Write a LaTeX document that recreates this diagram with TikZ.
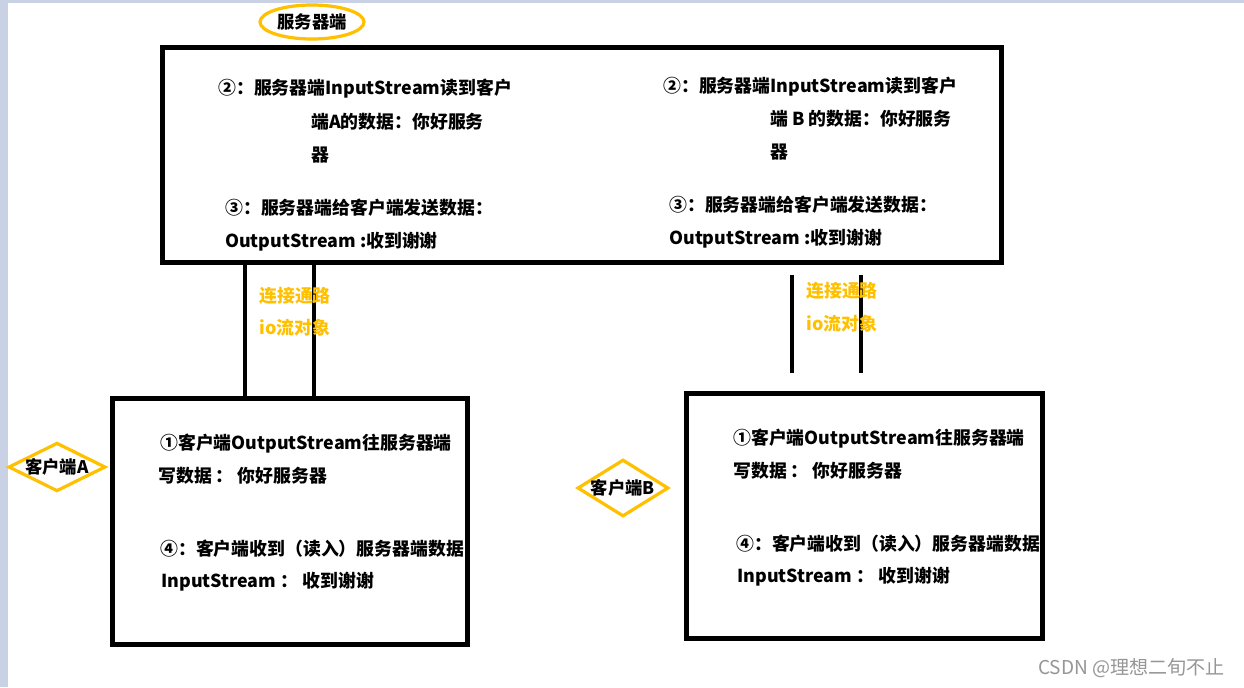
\documentclass[tikz,border=0pt]{standalone}
\usepackage{fontspec}
\setmainfont{Noto Sans CJK SC}
\usetikzlibrary{shapes.geometric}
\definecolor{gold}{RGB}{255,192,0}
\definecolor{strip}{RGB}{200,210,228}
\definecolor{wm}{RGB}{150,150,150}
\tikzset{
  box/.style={draw=black,line width=3.8pt,fill=none,inner sep=0pt},
  txt/.style={anchor=base west,inner sep=0pt,font=\fontsize{13.4}{16}\selectfont\bfseries},
  gtxt/.style={txt,text=gold},
  link/.style={line width=3.6pt,black},
  tag/.style={draw=gold,line width=2.4pt,fill=white,inner sep=0pt,font=\fontsize{13}{15}\selectfont\bfseries}
}
\begin{document}
\begin{tikzpicture}[x=0.75pt,y=-0.75pt]
\useasboundingbox (0,0) rectangle (1244,687);
\fill[white] (0,0) rectangle (1244,687);
\fill[strip] (0,0) rectangle (1244,3);
\fill[strip] (0,0) rectangle (8,687);
% server
\node[box,minimum width=839*0.75pt,minimum height=215*0.75pt,anchor=north west] (server) at (160,45) {};
\node[tag,ellipse,minimum width=104*0.75pt,minimum height=34*0.75pt] (stag) at (312,22) {服务器端};
\node[txt] (s1) at (218,94) {②：服务器端InputStream读到客户};
\node[txt] (s2) at (311,128) {端A的数据：你好服务};
\node[txt] (s3) at (311,161) {器};
\node[txt] (s4) at (225,214) {③：服务器端给客户端发送数据：};
\node[txt] (s5) at (225,247) {OutputStream :收到谢谢};
\node[txt] (t1) at (663,92) {②：服务器端InputStream读到客户};
\node[txt] (t2) at (770,125) {端 B 的数据：你好服务};
\node[txt] (t3) at (770,158) {器};
\node[txt] (t4) at (669,211) {③：服务器端给客户端发送数据：};
\node[txt] (t5) at (669,244) {OutputStream :收到谢谢};
% client A
\node[box,minimum width=355*0.75pt,minimum height=246*0.75pt,anchor=north west] (clientA) at (110,396) {};
\node[tag,diamond,aspect=2,minimum width=92*0.75pt,minimum height=46*0.75pt,inner sep=0pt] (atag) at (57,467) {客户端A};
\node[txt] (a1) at (160,449) {①客户端OutputStream往服务器端};
\node[txt] (a2) at (158,482) {写数据 ： 你好服务器};
\node[txt] (a3) at (160,555) {④：客户端收到（读入）服务器端数据};
\node[txt] (a4) at (161,587) {InputStream ： 收到谢谢};
% client B
\node[box,minimum width=356*0.75pt,minimum height=245*0.75pt,anchor=north west] (clientB) at (684,391) {};
\node[tag,diamond,aspect=1.6,minimum width=90*0.75pt,minimum height=56*0.75pt,inner sep=0pt] (btag) at (623,488) {客户端B};
\node[txt] (b1) at (733,444) {①客户端OutputStream往服务器端};
\node[txt] (b2) at (733,477) {写数据 ： 你好服务器};
\node[txt] (b3) at (736,550) {④：客户端收到（读入）服务器端数据};
\node[txt] (b4) at (737,582) {InputStream ： 收到谢谢};
% links A
\coordinate (la) at (245,0);
\coordinate (lb) at (314,0);
\draw[link] (server.south -| la) -- (clientA.north -| la);
\draw[link] (server.south -| lb) -- (clientA.north -| lb);
\node[gtxt] (g1) at (259,302) {连接通路};
\node[gtxt] (g2) at (259,334) {io流对象};
% links B (floating)
\coordinate (rc1) at (792,275);
\coordinate (rc2) at (792,373);
\coordinate (rd1) at (861,275);
\coordinate (rd2) at (861,373);
\draw[link] (rc1) -- (rc2);
\draw[link] (rd1) -- (rd2);
\node[gtxt] (h1) at (806,297) {连接通路};
\node[gtxt] (h2) at (806,330) {io流对象};
% watermark
\node[anchor=base west,inner sep=0pt,text=wm,font=\fontsize{14.3}{16}\selectfont] (wmk) at (1038,674) {CSDN @理想二旬不止};
\end{tikzpicture}
\end{document}
